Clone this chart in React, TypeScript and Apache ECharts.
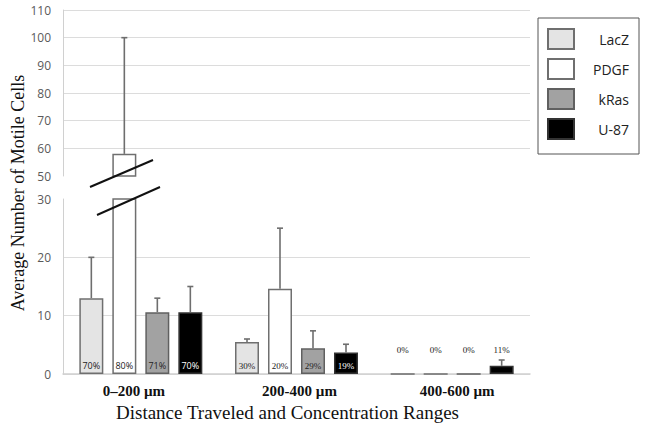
import React, { useEffect, useRef } from "react";
import * as echarts from "echarts";

const categories = ["0–200 µm", "200-400 µm", "400-600 µm"];
const seriesNames = ["LacZ", "PDGF", "kRas", "U-87"];
const lacZ = [13, 5.5, 0];
const pdgf = [58, 14.6, 0];
const kRas = [10.6, 4.4, 0];
const u87 = [10.6, 3.7, 1.4];
const lacZErr = [20, 6, null];
const pdgfErr = [100, 25, null];
const kRasErr = [13, 7.4, null];
const u87Err = [15, 5.1, 2.4];
const lacZPct = ["70%", "30%", "0%"];
const pdgfPct = ["80%", "20%", "0%"];
const kRasPct = ["71%", "29%", "0%"];
const u87Pct = ["70%", "19%", "11%"];
const upperTicks = [50, 60, 70, 80, 90, 100, 110];
const lowerTicks = [0, 10, 20, 30];

const LOWER_MAX = 30;
const values = [lacZ, pdgf, kRas, u87];
const errs = [lacZErr, pdgfErr, kRasErr, u87Err];
const pcts = [lacZPct, pdgfPct, kRasPct, u87Pct];
const fills = ["#e4e4e4", "#ffffff", "#a2a2a2", "#000000"];
const borders = ["#6f6f6f", "#6f6f6f", "#606060", "#333333"];
const labelColors = ["#222", "#222", "#222", "#fff"];
const BAR_W = 24;
const offsets = [-49.5, -16.5, 16.5, 49.5];
const catLabelPad = [
  [0, 14, 0, 0],
  [0, 0, 0, 6],
  [0, 0, 0, 10],
];

export default function App() {
  const ref = useRef<HTMLDivElement>(null);
  useEffect(() => {
    if (!ref.current) return;
    const chart = echarts.init(ref.current, null, { renderer: "svg" });
    const series: any[] = [];
    values.forEach((vals, s) => {
      series.push({
        type: "bar",
        name: seriesNames[s],
        xAxisIndex: 0,
        yAxisIndex: 0,
        barWidth: BAR_W,
        barGap: "37.5%",
        itemStyle: { color: fills[s], borderColor: borders[s], borderWidth: 1.5 },
        data: vals.map((v) => (v > LOWER_MAX ? v : "-")),
      });
    });
    values.forEach((vals, s) => {
      series.push({
        type: "bar",
        name: seriesNames[s],
        xAxisIndex: 1,
        yAxisIndex: 1,
        barWidth: BAR_W,
        barGap: "37.5%",
        itemStyle: { color: fills[s], borderColor: borders[s], borderWidth: 1.5 },
        data: vals.map((v, i) => {
          const above = i === 2;
          return {
            value: v,
            label: {
              show: true,
              formatter: pcts[s][i],
              position: above ? "top" : "insideBottom",
              distance: above ? (v > 0 ? 11 : 19) : 4,
              fontSize: 9,
              fontFamily: i === 0 ? "Open Sans" : "Liberation Serif",
              color: above ? "#222" : labelColors[s],
              textBorderWidth: 0,
              textBorderColor: "transparent",
            },
          };
        }),
      });
    });
    const mkErr = (s: number, grid: number) => {
      const data: any[] = [];
      values[s].forEach((v, i) => {
        const e = errs[s][i];
        if (e == null) return;
        const inUpper = v > LOWER_MAX;
        if ((grid === 0) === inUpper) data.push([i, v, e]);
      });
      return {
        type: "custom",
        name: "err-" + seriesNames[s] + grid,
        xAxisIndex: grid,
        yAxisIndex: grid,
        encode: { x: 0, y: [1, 2] },
        z: 5,
        data,
        renderItem: (params: any, api: any) => {
          const c = api.value(0);
          const base = api.coord([c, api.value(1)]);
          const top = api.coord([c, api.value(2)]);
          const x = base[0] + offsets[s];
          const st = { stroke: "#6e6e6e", lineWidth: 1.6 };
          return {
            type: "group",
            children: [
              { type: "line", shape: { x1: x, y1: base[1], x2: x, y2: top[1] }, style: st },
              { type: "line", shape: { x1: x - 3, y1: top[1], x2: x + 3, y2: top[1] }, style: st },
            ],
          };
        },
      };
    };
    for (let s = 0; s < 4; s++) {
      series.push(mkErr(s, 0));
      series.push(mkErr(s, 1));
    }

    const yLabel = { color: "#5a5a5a", fontSize: 12, fontFamily: "Open Sans", margin: 12 };
    const catRich: any = {};
    catLabelPad.forEach((p, i) => {
      catRich["c" + i] = {
        padding: p,
        color: "#111",
        fontSize: 15,
        fontWeight: "bold",
        fontFamily: "Liberation Serif",
      };
    });
    chart.setOption({
      animation: false,
      backgroundColor: "#fff",
      grid: [
        { left: 63, top: 10, width: 467, height: 166 },
        { left: 63, top: 199, width: 467, height: 175 },
      ],
      xAxis: [
        { type: "category", gridIndex: 0, data: categories, show: false },
        {
          type: "category",
          gridIndex: 1,
          data: categories,
          axisLine: { lineStyle: { color: "#d0d0d0", width: 1.5 } },
          axisTick: { show: false },
          axisLabel: {
            margin: 9,
            formatter: (v: string, i: number) => "{c" + i + "|" + v + "}",
            rich: catRich,
          },
          name: "Distance Traveled and Concentration Ranges",
          nameLocation: "middle",
          nameGap: 29,
          nameTextStyle: { color: "#111", fontSize: 19, fontFamily: "Liberation Serif", padding: [0, 18, 0, 0] },
        },
      ],
      yAxis: [
        {
          type: "value",
          gridIndex: 0,
          min: upperTicks[0],
          max: upperTicks[upperTicks.length - 1],
          interval: 10,
          axisLine: { show: true, lineStyle: { color: "#d0d0d0" } },
          axisTick: { show: false },
          axisLabel: yLabel,
          splitLine: { lineStyle: { color: "#dcdcdc", width: 1.2 }, showMinLine: false },
        },
        {
          type: "value",
          gridIndex: 1,
          min: lowerTicks[0],
          max: lowerTicks[lowerTicks.length - 1],
          interval: 10,
          axisLine: { show: true, lineStyle: { color: "#d0d0d0" } },
          axisTick: { show: false },
          axisLabel: yLabel,
          splitLine: { lineStyle: { color: "#dcdcdc", width: 1.2 }, showMaxLine: false },
        },
      ],
      legend: {
        data: seriesNames,
        orient: "vertical",
        left: 538,
        top: 18,
        icon: "rect",
        itemWidth: 26,
        itemHeight: 20,
        itemGap: 8,
        padding: [10, 10, 14, 9],
        borderColor: "#555",
        borderWidth: 1,
        formatter: "{r|{name}}",
        textStyle: {
          rich: {
            r: { width: 50, align: "right", fontFamily: "Open Sans", fontSize: 14, color: "#222" },
          },
        },
      },
      graphic: [
        {
          type: "text",
          x: 18,
          y: 193,
          rotation: Math.PI / 2,
          style: {
            text: "Average Number of Motile Cells",
            fontSize: 18,
            fontFamily: "Liberation Serif",
            fill: "#111",
            align: "center",
            verticalAlign: "middle",
          },
        },
        {
          type: "line",
          z: 100,
          shape: { x1: 90, y1: 187, x2: 153, y2: 160 },
          style: { stroke: "#111", lineWidth: 2 },
        },
        {
          type: "line",
          z: 100,
          shape: { x1: 97, y1: 215, x2: 160, y2: 187 },
          style: { stroke: "#111", lineWidth: 2 },
        },
      ],
      series,
    });
    return () => chart.dispose();
  }, []);
  return <div ref={ref} style={{ width: 645, height: 431, position: "absolute", left: 0, top: 0 }} />;
}
